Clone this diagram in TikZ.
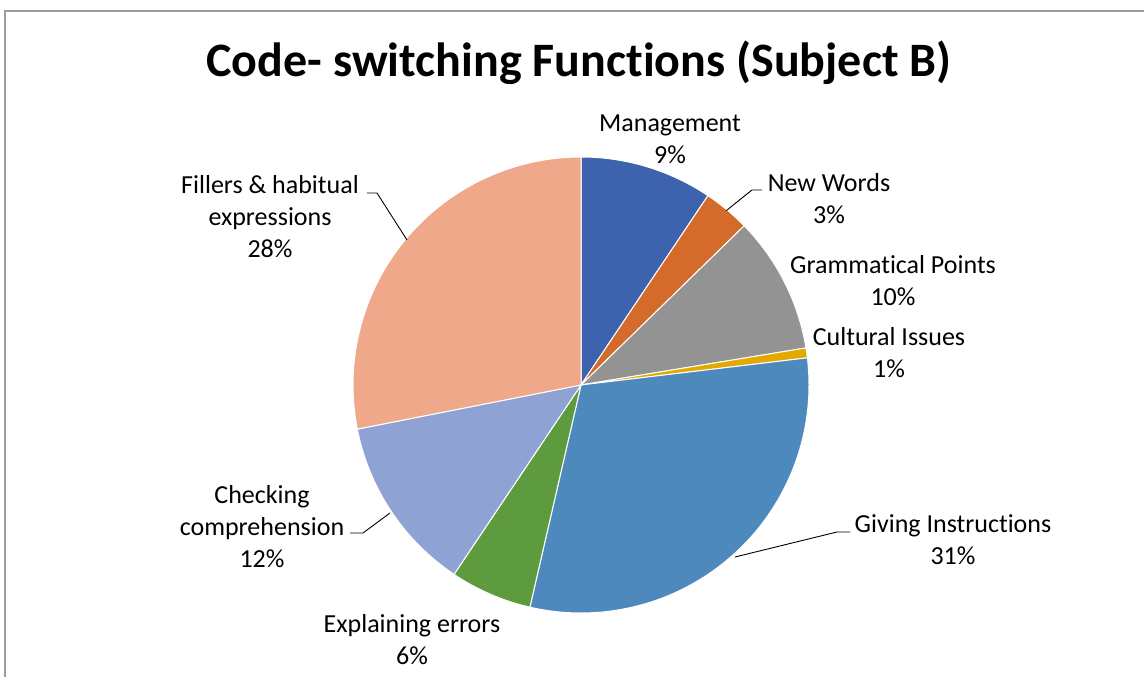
\documentclass[tikz,border=0pt]{standalone}
\usepackage{fontspec}
\setmainfont{Carlito}[Ligatures=NoCommon]
\usetikzlibrary{calc}
\definecolor{cM}{HTML}{3D63AE}
\definecolor{cNW}{HTML}{D56B2B}
\definecolor{cGP}{HTML}{939393}
\definecolor{cCI}{HTML}{E2AA00}
\definecolor{cGI}{HTML}{4E89BE}
\definecolor{cEE}{HTML}{5E9A3E}
\definecolor{cCC}{HTML}{8FA2D4}
\definecolor{cFH}{HTML}{F0A88A}
\definecolor{frame}{HTML}{9C9C9C}
\begin{document}
\begin{tikzpicture}[x=1pt,y=1pt,
  lbl/.style={align=center,font=\fontsize{26}{32}\selectfont,inner sep=0pt,text=black},
  leader/.style={draw=black,line width=0.9pt},
  slice/.style={draw=white,line width=1pt,line join=round}]
\useasboundingbox (0,0) rectangle (1144,677);
\fill[white] (0,0) rectangle (1144,677);
\draw[frame,line width=1.5pt] (5,0) -- (5,666) -- (1144,666);
% title
\node[anchor=base,font=\fontsize{48}{58}\selectfont\bfseries,inner sep=0pt] (title) at (579,600) {Code- switching Functions (Subject B)};
% pie
\coordinate (C) at (581,292);
\def\R{228}
\fill[cM,slice] (C) -- ++(90:\R) arc[start angle=90,end angle=56.16,radius=\R] -- cycle;
\fill[cNW,slice] (C) -- ++(56.16:\R) arc[start angle=56.16,end angle=44.28,radius=\R] -- cycle;
\fill[cGP,slice] (C) -- ++(44.28:\R) arc[start angle=44.28,end angle=9.36,radius=\R] -- cycle;
\fill[cCI,slice] (C) -- ++(9.36:\R) arc[start angle=9.36,end angle=6.84,radius=\R] -- cycle;
\fill[cGI,slice] (C) -- ++(6.84:\R) arc[start angle=6.84,end angle=-102.96,radius=\R] -- cycle;
\fill[cEE,slice] (C) -- ++(-102.96:\R) arc[start angle=-102.96,end angle=-123.84,radius=\R] -- cycle;
\fill[cCC,slice] (C) -- ++(-123.84:\R) arc[start angle=-123.84,end angle=-168.84,radius=\R] -- cycle;
\fill[cFH,slice] (C) -- ++(-168.84:\R) arc[start angle=-168.84,end angle=-270,radius=\R] -- cycle;
% labels
\node[lbl] (lM) at (670,538) {Management\\9\%};
\node[lbl] (lNW) at (829,478) {New Words\\3\%};
\node[lbl] (lGP) at (893,396) {Grammatical Points\\10\%};
\node[lbl] (lCI) at (889,324) {Cultural Issues\\1\%};
\node[lbl] (lGI) at (953,137) {Giving Instructions\\31\%};
\node[lbl] (lEE) at (412,37) {Explaining errors\\6\%};
\node[lbl] (lCC) at (262,150) {Checking\\comprehension\\12\%};
\node[lbl] (lFH) at (270,460) {Fillers \& habitual\\expressions\\28\%};
% leader lines
\coordinate (pNW) at ($(C)+(50.2:227)$);
\coordinate (eNW) at (762,487);
\draw[leader] (pNW) -- (752,487) -- (eNW);
\coordinate (pFH) at (407,437);
\coordinate (eFH) at (367,484);
\draw[leader] (pFH) -- (377,484) -- (eFH);
\coordinate (pCC) at (390,164);
\coordinate (eCC) at (350,144);
\draw[leader] (pCC) -- (363,144) -- (eCC);
\coordinate (pGI) at (735,120);
\coordinate (eGI) at (850,145);
\draw[leader] (pGI) -- (837,145) -- (eGI);
\end{tikzpicture}
\end{document}
